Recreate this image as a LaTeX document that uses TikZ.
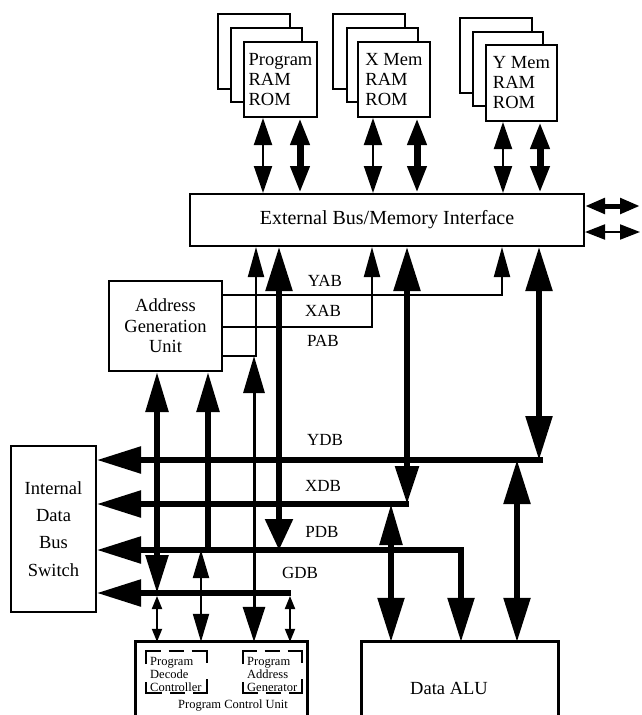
\documentclass[tikz,border=0pt]{standalone}
\usepackage{fontspec}
\setmainfont{Liberation Serif}
\usetikzlibrary{arrows.meta}
\tikzset{
  busTip/.tip={Triangle[length=44pt,width=26pt]},
  busDnA/.tip={Triangle[length=31pt,width=27pt]},
  busDnB/.tip={Triangle[length=38pt,width=23pt]},
  aguTip/.tip={Triangle[length=40pt,width=22pt]},
  adrTip/.tip={Triangle[length=30pt,width=16pt]},
  memTip/.tip={Triangle[length=27pt,width=18pt]},
  pcuTip/.tip={Triangle[length=28pt,width=16pt]},
  smlTip/.tip={Triangle[length=13pt,width=10pt]},
  extTip/.tip={Triangle[length=20pt,width=15pt]},
}
\begin{document}
\begin{tikzpicture}[x=1pt,y=-1pt,
  box/.style={draw,line width=2pt,fill=white,inner sep=0pt,align=center},
  memtxt/.style={font=\fontsize{18.5}{20}\selectfont,align=left},
  txt/.style={font=\fontsize{18.5}{20.5}\selectfont},
  lab/.style={font=\fontsize{17}{17}\selectfont,inner sep=0pt},
  small/.style={font=\fontsize{12.5}{13}\selectfont,inner sep=0pt,align=left},
  bus/.style={line width=5.5pt},
  thinline/.style={line width=2pt},
  memthick/.style={line width=7pt},
  openbox/.style={line width=3pt},
]
\useasboundingbox (0,0) rectangle (641,715);

% ---------- memory stacks ----------
\draw[box] (218,14) rectangle (290,89);
\draw[box] (231,28) rectangle (302,102);
\node[box,memtxt,minimum width=73pt,minimum height=75pt] (pmem) at (280.5,79.5) {Program\\RAM\\ROM};

\draw[box] (333,14) rectangle (405,89);
\draw[box] (347,28) rectangle (418,102);
\node[box,memtxt,minimum width=72pt,minimum height=75pt] (xmem) at (394,79.5) {X Mem\\RAM\\ROM};

\draw[box] (460,18) rectangle (532,93);
\draw[box] (473,32) rectangle (543,106);
\node[box,memtxt,minimum width=71pt,minimum height=76pt] (ymem) at (521.5,83) {Y Mem\\RAM\\ROM};

% ---------- main boxes ----------
\node[box,minimum width=394pt,minimum height=52pt,font=\fontsize{20}{22}\selectfont] (ebus) at (387,220) {External Bus/Memory Interface};
\node[box,txt,minimum width=113pt,minimum height=90pt] (agu) at (165.5,326) {Address\\Generation\\Unit};
\node[box,minimum width=85pt,minimum height=166pt,font=\fontsize{18.5}{27.3}\selectfont] (sw) at (53.5,529) {Internal\\Data\\Bus\\Switch};

\node[inner sep=0pt,minimum width=171pt,minimum height=73pt] (pcu) at (221.5,678.5) {};
\draw[openbox] (pcu.south west) -- (pcu.north west) -- (pcu.north east) -- (pcu.south east);
\node[inner sep=0pt,minimum width=196pt,minimum height=73pt] (alu) at (460,678.5) {};
\draw[openbox] (alu.south west) -- (alu.north west) -- (alu.north east) -- (alu.south east);
\node[txt,inner sep=0pt] (alulab) at (449,688) {Data ALU};

% dashed sub-blocks
\node[inner sep=0pt,minimum width=61pt,minimum height=42pt] (pdc) at (176.5,672) {};
\draw[line width=2pt,dash pattern=on 28pt off 8pt on 15pt off 8pt on 28pt off 16pt,dash phase=95pt]
  (pdc.west) -- (pdc.north west) -- (pdc.north east) -- (pdc.south east) -- (pdc.south west) -- cycle;
\node[small,anchor=west] (pdct) at (150,674) {Program\\Decode\\Controller};
\node[inner sep=0pt,minimum width=59pt,minimum height=42pt] (pag) at (272.5,672) {};
\draw[line width=2pt,dash pattern=on 27pt off 8pt on 15pt off 8pt on 27pt off 16pt,dash phase=93pt]
  (pag.west) -- (pag.north west) -- (pag.north east) -- (pag.south east) -- (pag.south west) -- cycle;
\node[small,anchor=west] (pagt) at (247,674) {Program\\Address\\Generator};
\node[small] (pcut) at (233,706) {Program Control Unit};

% ---------- memory <-> external bus ----------
\draw[thinline,arrows={memTip-memTip}] ([xshift=-17.5pt]pmem.south) -- ([xshift=-17.5pt]pmem.south |- ebus.north);
\draw[memthick,arrows={memTip-memTip}] ([xshift=19.5pt]pmem.south) -- ([xshift=19.5pt]pmem.south |- ebus.north);
\draw[thinline,arrows={memTip-memTip}] ([xshift=-21pt]xmem.south) -- ([xshift=-21pt]xmem.south |- ebus.north);
\draw[memthick,arrows={memTip-memTip}] ([xshift=23pt]xmem.south) -- ([xshift=23pt]xmem.south |- ebus.north);
\draw[thinline,arrows={memTip-memTip}] ([xshift=-18.5pt]ymem.south) -- ([xshift=-18.5pt]ymem.south |- ebus.north);
\draw[memthick,arrows={memTip-memTip}] ([xshift=18.5pt]ymem.south) -- ([xshift=18.5pt]ymem.south |- ebus.north);

% ---------- external connections ----------
\coordinate (eR1) at (640,206);
\coordinate (eR2) at (640,232);
\draw[line width=5pt,arrows={extTip-extTip}] (ebus.east |- eR1) -- (eR1);
\draw[thinline,arrows={extTip-extTip}] (ebus.east |- eR2) -- (eR2);

% ---------- address buses ----------
\coordinate (yab) at (502,295);
\coordinate (xab) at (372,327);
\coordinate (pab) at (256,356);
\draw[thinline,arrows={-adrTip}] (agu.east |- yab) -- (yab) -- (yab |- ebus.south);
\draw[thinline,arrows={-adrTip}] (agu.east |- xab) -- (xab) -- (xab |- ebus.south);
\draw[thinline,arrows={-adrTip}] (agu.east |- pab) -- (pab) -- (pab |- ebus.south);

% ---------- data buses ----------
\coordinate (ydbE) at (543,460);
\coordinate (xdbE) at (409,504);
\coordinate (pdbC) at (461,550);
\coordinate (gdbE) at (291,593);
\draw[bus,arrows={-busTip}] (ydbE) -- (sw.east |- ydbE);
\draw[bus,arrows={-busTip}] (xdbE) -- (sw.east |- xdbE);
\draw[bus,arrows={busTip-busTip}] (sw.east |- pdbC) -- (pdbC) -- (pdbC |- alu.north);
\draw[bus,arrows={-busTip}] (gdbE) -- (sw.east |- gdbE);

% ---------- data bus <-> external bus ----------
\coordinate (v279) at (279,550);
\coordinate (v407) at (407,504);
\coordinate (v539) at (539,460);
\draw[bus,arrows={busDnA-busTip}] (v279) -- (v279 |- ebus.south);
\draw[bus,arrows={busDnB-busTip}] (v407) -- (v407 |- ebus.south);
\draw[bus,arrows={busTip-busTip}] (v539) -- (v539 |- ebus.south);

% ---------- data buses <-> AGU ----------
\coordinate (v157) at (157,593);
\coordinate (v208) at (208,550);
\draw[bus,arrows={Triangle[length=38pt,width=22pt]-aguTip}] (v157) -- (v157 |- agu.south);
\draw[bus,arrows={-aguTip}] (v208) -- (v208 |- agu.south);

% ---------- data buses <-> Data ALU ----------
\coordinate (v391) at (391,504);
\coordinate (v517) at (517,460);
\draw[bus,arrows={Triangle[length=41pt,width=22pt]-busTip}] (v391) -- (v391 |- alu.north);
\draw[bus,arrows={busTip-busTip}] (v517) -- (v517 |- alu.north);

% ---------- program control unit connections ----------
\coordinate (v254) at (254,356);
\coordinate (v201) at (201,550);
\coordinate (g157) at (157,596);
\coordinate (g290) at (290,596);
\draw[line width=3pt,arrows={Triangle[length=37pt,width=21pt]-Triangle[length=35pt,width=22pt]}] (v254) -- (v254 |- pcu.north);
\draw[thinline,arrows={pcuTip-pcuTip}] (v201) -- (v201 |- pcu.north);
\draw[thinline,arrows={smlTip-smlTip}] (g157) -- (g157 |- pcu.north);
\draw[thinline,arrows={smlTip-smlTip}] (g290) -- (g290 |- pcu.north);

% ---------- bus labels ----------
\node[lab] (lyab) at (325,281) {YAB};
\node[lab] (lxab) at (323,311) {XAB};
\node[lab] (lpab) at (323,341) {PAB};
\node[lab] (lydb) at (325,440) {YDB};
\node[lab] (lxdb) at (323,486) {XDB};
\node[lab] (lpdb) at (322,532) {PDB};
\node[lab] (lgdb) at (300,573) {GDB};
\end{tikzpicture}
\end{document}
